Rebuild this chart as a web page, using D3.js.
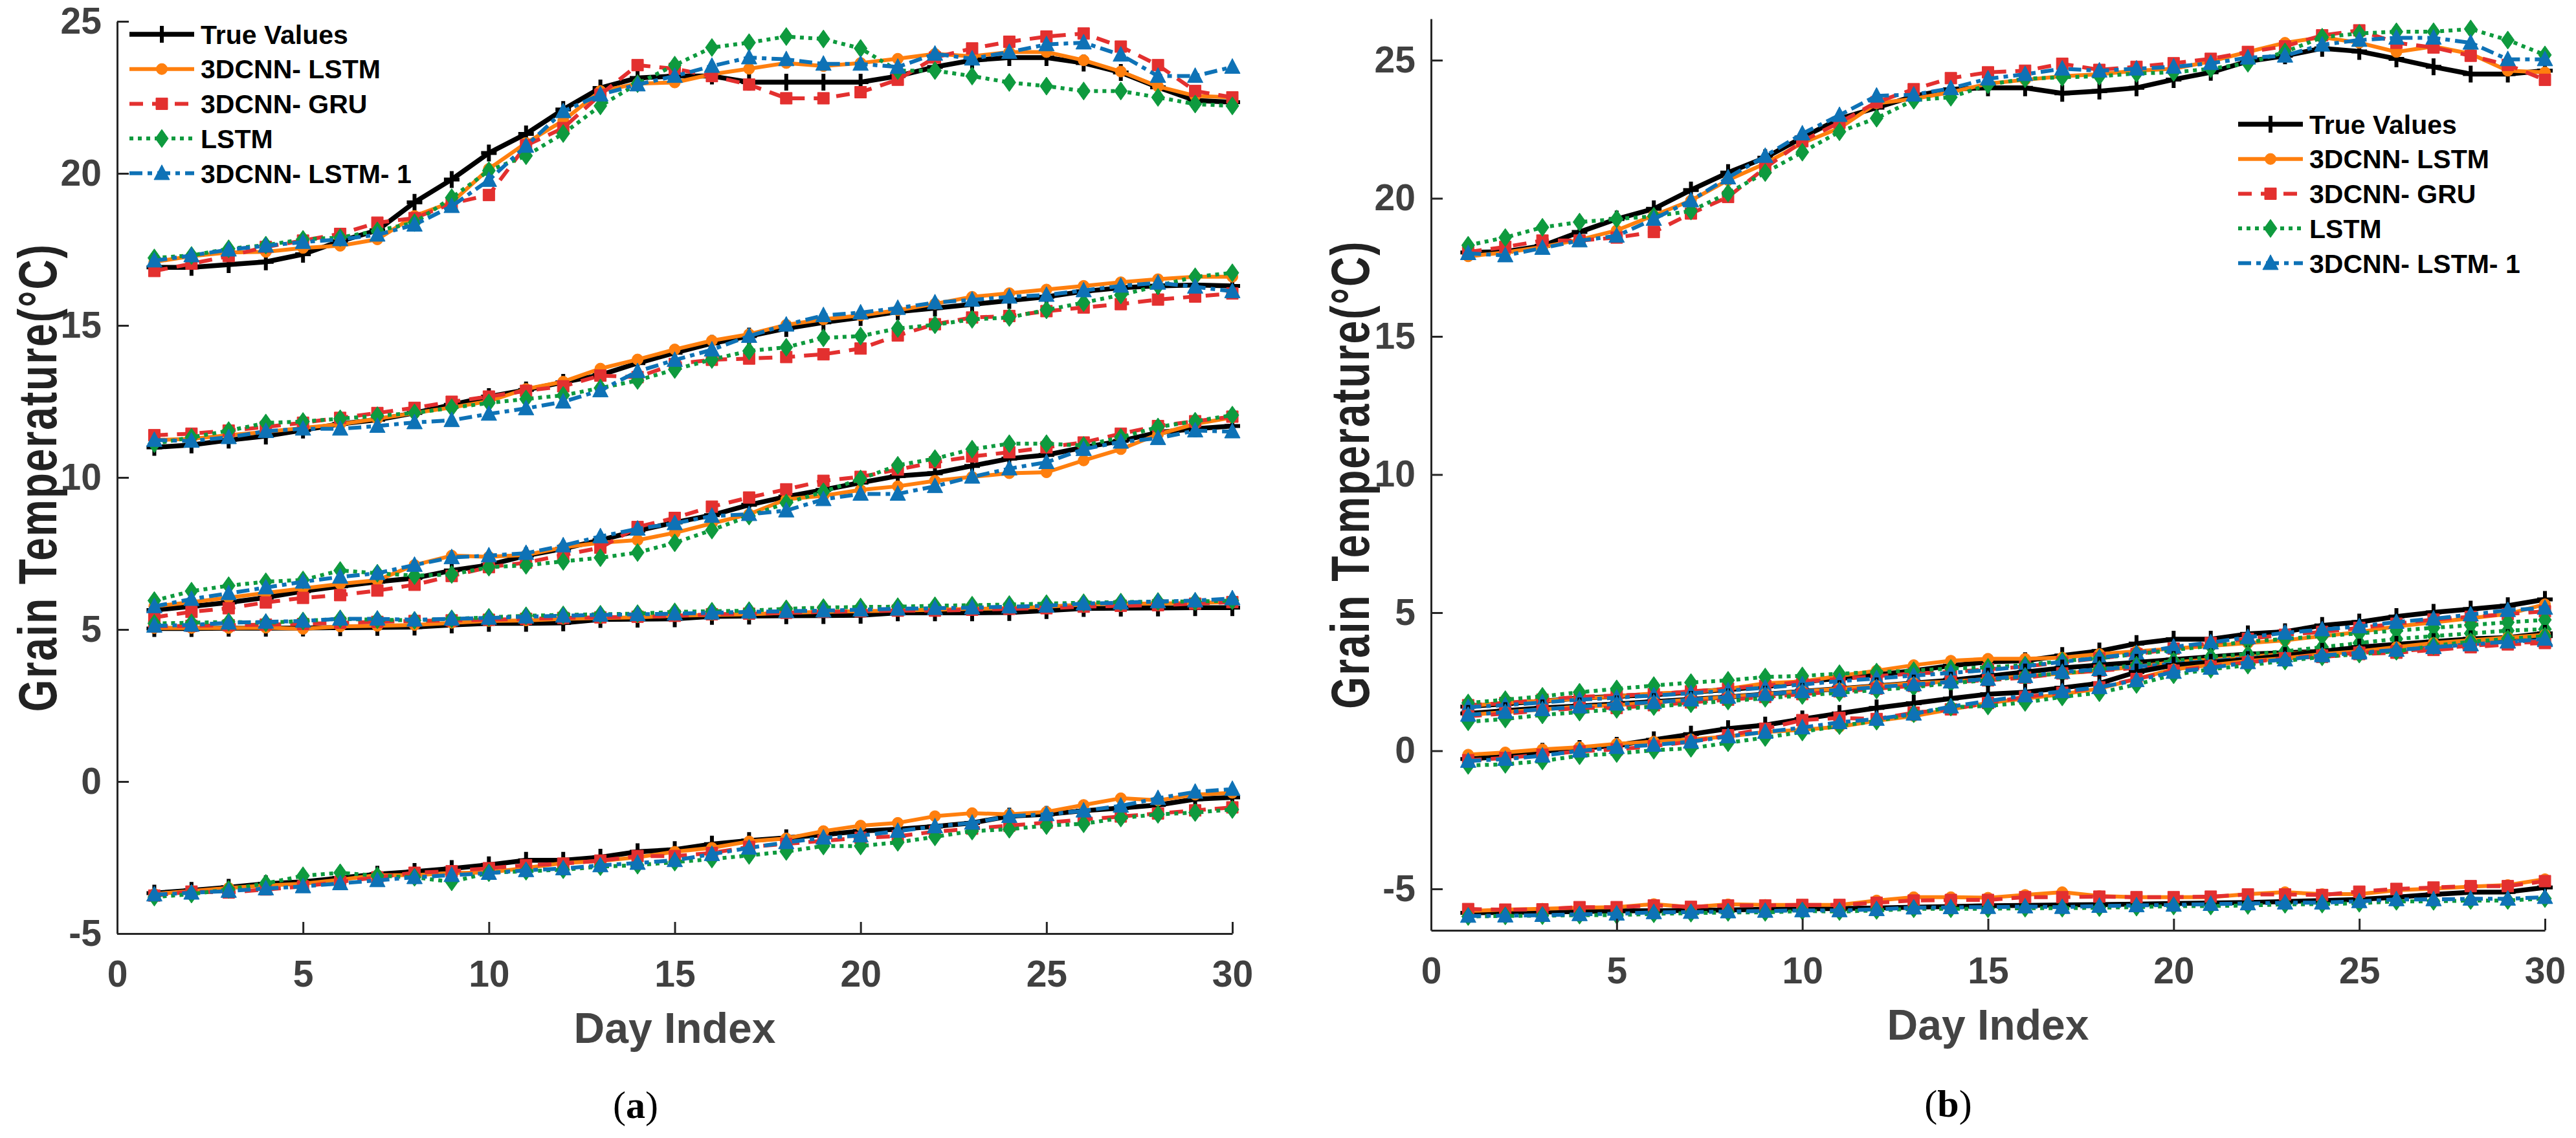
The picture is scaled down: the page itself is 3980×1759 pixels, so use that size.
<!DOCTYPE html>
<html>
<head>
<meta charset="utf-8">
<title>Grain temperature prediction</title>
<script src="https://cdn.jsdelivr.net/npm/d3@7"></script>
<style>
body { margin:0; background:#fff; }
</style>
</head>
<body>
<svg id="fig" width="3980" height="1759"></svg>

<script>
// ---- data ----
var days=[1,2,3,4,5,6,7,8,9,10,11,12,13,14,15,16,17,18,19,20,21,22,23,24,25,26,27,28,29,30]
var seriesNames=["True Values","3DCNN- LSTM","3DCNN- GRU","LSTM","3DCNN- LSTM- 1"]
var xTicks=[0,5,10,15,20,25,30]
var yTicks=[-5,0,5,10,15,20,25]

// panel (a): one list per sensor group
var aTrue=[
 [16.91,16.91,17.0,17.09,17.34,17.77,18.13,19.05,19.8,20.67,21.3,22.1,22.81,23.14,23.2,23.2,23.0,23.0,23.0,23.0,23.2,23.5,23.72,23.81,23.81,23.63,23.32,22.83,22.4,22.34],
 [10.99,11.07,11.23,11.36,11.56,11.76,11.9,12.12,12.39,12.66,12.88,13.13,13.37,13.76,14.1,14.41,14.65,14.9,15.1,15.26,15.45,15.57,15.69,15.82,15.94,16.12,16.24,16.3,16.33,16.3],
 [5.64,5.76,5.89,6.05,6.26,6.42,6.57,6.69,6.94,7.12,7.43,7.66,7.94,8.25,8.52,8.76,9.1,9.37,9.59,9.83,10.05,10.14,10.38,10.62,10.74,10.99,11.2,11.48,11.6,11.69],
 [5.03,5.03,5.04,5.04,5.05,5.06,5.07,5.08,5.15,5.2,5.2,5.22,5.33,5.34,5.35,5.43,5.44,5.45,5.46,5.47,5.55,5.55,5.55,5.56,5.62,5.69,5.7,5.71,5.72,5.72],
 [-3.67,-3.58,-3.48,-3.36,-3.3,-3.17,-3.05,-2.96,-2.86,-2.74,-2.59,-2.59,-2.49,-2.31,-2.24,-2.06,-1.94,-1.85,-1.75,-1.63,-1.57,-1.48,-1.36,-1.14,-1.08,-0.96,-0.87,-0.77,-0.58,-0.52]]
var aCnnLstm=[
 [17.09,17.28,17.4,17.42,17.55,17.62,17.83,18.6,19.05,20.15,21.0,21.73,22.71,22.95,22.99,23.26,23.44,23.63,23.53,23.63,23.77,23.93,23.85,23.99,23.99,23.72,23.35,22.86,22.55,22.5],
 [11.23,11.27,11.39,11.5,11.63,11.75,11.93,12.12,12.3,12.51,12.91,13.15,13.58,13.88,14.21,14.5,14.71,15.02,15.2,15.33,15.5,15.71,15.94,16.06,16.18,16.3,16.42,16.52,16.6,16.6],
 [5.76,5.9,6.05,6.2,6.35,6.5,6.62,7.12,7.43,7.39,7.45,7.7,7.85,7.94,8.18,8.49,8.79,9.28,9.4,9.59,9.71,9.89,10.02,10.14,10.17,10.56,10.93,11.42,11.76,11.97],
 [5.05,5.05,5.05,5.06,5.02,5.1,5.12,5.15,5.22,5.28,5.3,5.35,5.38,5.4,5.45,5.48,5.5,5.55,5.58,5.6,5.62,5.65,5.68,5.7,5.75,5.82,5.85,5.85,5.88,5.9],
 [-3.7,-3.6,-3.5,-3.42,-3.36,-3.23,-3.08,-3.08,-3.01,-2.99,-2.84,-2.68,-2.61,-2.49,-2.31,-2.18,-1.97,-1.87,-1.63,-1.45,-1.36,-1.14,-1.04,-1.08,-1.0,-0.77,-0.55,-0.62,-0.43,-0.37]]
var aCnnGru=[
 [16.79,17.03,17.28,17.58,17.79,18.01,18.38,18.53,19.01,19.29,20.92,21.49,22.59,23.56,23.44,23.2,22.92,22.47,22.47,22.67,23.08,23.81,24.11,24.33,24.5,24.6,24.17,23.56,22.71,22.5],
 [11.39,11.44,11.54,11.66,11.8,11.96,12.12,12.29,12.49,12.66,12.85,13.0,13.35,13.3,13.73,13.87,13.91,13.96,14.05,14.24,14.67,15.04,15.26,15.31,15.47,15.59,15.7,15.85,15.95,16.05],
 [5.4,5.58,5.7,5.89,6.04,6.13,6.28,6.47,6.76,7.05,7.2,7.45,7.69,8.37,8.67,9.04,9.34,9.61,9.89,10.02,10.26,10.5,10.69,10.83,10.99,11.15,11.44,11.69,11.85,12.0],
 [5.1,5.12,5.14,5.16,5.18,5.22,5.25,5.28,5.3,5.32,5.35,5.38,5.4,5.42,5.45,5.5,5.52,5.55,5.58,5.6,5.62,5.62,5.65,5.68,5.7,5.75,5.78,5.8,5.85,5.9],
 [-3.75,-3.62,-3.65,-3.55,-3.45,-3.3,-3.15,-3.0,-2.95,-2.85,-2.75,-2.7,-2.6,-2.45,-2.45,-2.35,-2.15,-2.05,-1.95,-1.85,-1.8,-1.65,-1.55,-1.45,-1.35,-1.25,-1.15,-1.05,-0.95,-0.85]]
var aLstm=[
 [17.22,17.3,17.52,17.64,17.83,17.89,18.11,18.38,19.2,20.09,20.58,21.31,22.22,22.95,23.56,24.14,24.3,24.5,24.42,24.11,23.38,23.38,23.2,22.99,22.87,22.71,22.71,22.5,22.28,22.22],
 [11.11,11.32,11.54,11.79,11.84,11.93,12.03,12.12,12.29,12.45,12.58,12.7,12.94,13.19,13.55,13.88,14.16,14.28,14.59,14.65,14.9,15.02,15.2,15.26,15.51,15.75,16.0,16.3,16.6,16.73],
 [5.95,6.26,6.44,6.57,6.63,6.94,6.85,6.77,6.81,7.05,7.11,7.24,7.36,7.53,7.85,8.27,8.73,9.16,9.53,9.95,10.4,10.62,10.93,11.11,11.11,11.05,11.32,11.66,11.85,12.05],
 [5.2,5.22,5.25,5.22,5.28,5.35,5.32,5.3,5.35,5.4,5.45,5.48,5.5,5.52,5.58,5.6,5.62,5.68,5.72,5.74,5.75,5.78,5.8,5.82,5.85,5.88,5.9,5.92,5.92,5.95],
 [-3.8,-3.7,-3.55,-3.35,-3.1,-3.0,-3.1,-3.15,-3.3,-3.0,-2.95,-2.9,-2.8,-2.75,-2.65,-2.55,-2.43,-2.3,-2.12,-2.12,-2.0,-1.82,-1.63,-1.57,-1.45,-1.39,-1.2,-1.08,-1.02,-0.92]]
var aCnnLstm1=[
 [17.13,17.3,17.49,17.62,17.74,17.83,17.98,18.31,18.92,19.78,20.9,22.04,22.59,22.92,23.2,23.53,23.81,23.75,23.6,23.6,23.5,23.93,23.77,23.99,24.24,24.3,23.9,23.2,23.2,23.5],
 [11.23,11.2,11.32,11.52,11.6,11.6,11.69,11.81,11.88,12.09,12.27,12.49,12.86,13.49,13.86,14.2,14.65,15.02,15.33,15.42,15.57,15.75,15.84,15.94,16.0,16.15,16.3,16.4,16.27,16.12],
 [5.76,6.0,6.19,6.38,6.57,6.73,6.85,7.12,7.37,7.43,7.51,7.76,8.06,8.31,8.49,8.73,8.79,8.91,9.28,9.46,9.46,9.71,10.02,10.29,10.5,10.93,11.17,11.29,11.54,11.51],
 [5.12,5.15,5.22,5.25,5.28,5.35,5.35,5.32,5.35,5.38,5.42,5.45,5.48,5.5,5.52,5.55,5.58,5.6,5.62,5.65,5.68,5.7,5.72,5.75,5.78,5.85,5.88,5.92,5.95,6.02],
 [-3.72,-3.66,-3.6,-3.52,-3.45,-3.35,-3.25,-3.15,-3.08,-3.01,-2.92,-2.86,-2.76,-2.68,-2.59,-2.39,-2.18,-2.0,-1.85,-1.78,-1.63,-1.48,-1.36,-1.14,-1.08,-0.96,-0.8,-0.55,-0.34,-0.25]]

// panel (b)
var bTrue=[
 [18.04,18.07,18.28,18.78,19.25,19.62,20.3,20.93,21.47,22.2,22.88,23.28,23.7,23.95,24.0,24.0,23.8,23.88,24.0,24.3,24.56,24.96,25.16,25.43,25.32,25.05,24.76,24.5,24.5,24.62],
 [1.6,1.7,1.8,1.9,1.97,2.03,2.12,2.22,2.33,2.5,2.62,2.75,2.9,3.08,3.22,3.26,3.45,3.61,3.88,4.04,4.04,4.23,4.31,4.54,4.66,4.86,5.01,5.13,5.25,5.48],
 [1.35,1.45,1.55,1.62,1.7,1.78,1.86,1.95,2.05,2.15,2.25,2.35,2.45,2.55,2.7,2.85,3.0,3.1,3.2,3.3,3.4,3.5,3.55,3.6,3.7,3.8,3.9,4.0,4.05,4.15],
 [-0.3,-0.2,-0.02,0.08,0.2,0.4,0.6,0.8,0.93,1.15,1.35,1.55,1.72,1.89,2.05,2.12,2.28,2.44,2.85,3.1,3.2,3.3,3.45,3.6,3.75,3.85,3.95,4.05,4.1,4.25],
 [-5.87,-5.85,-5.84,-5.82,-5.8,-5.79,-5.78,-5.76,-5.74,-5.72,-5.71,-5.69,-5.66,-5.64,-5.61,-5.6,-5.58,-5.57,-5.55,-5.53,-5.51,-5.49,-5.46,-5.42,-5.38,-5.3,-5.2,-5.12,-5.11,-4.95]]
var bCnnLstm=[
 [17.9,18.04,18.24,18.5,18.84,19.38,19.92,20.66,21.26,22.0,22.54,23.44,23.6,23.84,24.15,24.29,24.42,24.49,24.62,24.69,24.96,25.3,25.63,25.83,25.63,25.3,25.5,25.23,24.62,24.56],
 [1.62,1.73,1.81,1.89,1.97,2.08,2.12,2.24,2.44,2.51,2.71,2.9,3.1,3.26,3.33,3.33,3.37,3.5,3.6,3.7,3.8,3.9,4.0,4.15,4.3,4.5,4.65,4.8,4.95,5.3],
 [1.3,1.4,1.5,1.6,1.65,1.75,1.85,1.95,2.05,2.15,2.25,2.35,2.45,2.5,2.6,2.7,2.8,2.9,3.05,3.2,3.3,3.4,3.5,3.6,3.65,3.75,3.85,3.95,4.05,4.2],
 [-0.14,-0.06,0.05,0.13,0.25,0.33,0.41,0.52,0.68,0.76,0.87,1.09,1.26,1.5,1.73,1.89,2.05,2.25,2.6,2.95,3.1,3.25,3.35,3.5,3.6,3.75,3.9,4.0,4.1,4.2],
 [-5.8,-5.75,-5.72,-5.68,-5.66,-5.55,-5.66,-5.56,-5.58,-5.58,-5.58,-5.42,-5.3,-5.3,-5.32,-5.22,-5.12,-5.26,-5.3,-5.3,-5.3,-5.19,-5.12,-5.19,-5.19,-5.05,-4.99,-4.92,-4.86,-4.65]]
var bCnnGru=[
 [18.06,18.24,18.47,18.47,18.58,18.78,19.45,20.05,21.1,22.07,22.74,23.48,23.95,24.35,24.56,24.62,24.87,24.65,24.76,24.89,25.05,25.3,25.5,25.9,26.08,25.63,25.46,25.16,24.83,24.29],
 [1.65,1.73,1.85,1.95,2.0,2.05,2.15,2.25,2.35,2.5,2.6,2.7,2.8,2.85,2.95,3.05,3.2,3.35,3.5,3.7,3.9,4.05,4.2,4.3,4.45,4.6,4.75,4.85,4.95,5.05],
 [1.25,1.35,1.45,1.55,1.55,1.65,1.75,1.85,1.95,2.05,2.15,2.25,2.35,2.5,2.55,2.65,2.8,2.9,3.0,3.1,3.2,3.3,3.35,3.4,3.5,3.55,3.65,3.75,3.85,3.9],
 [-0.34,-0.26,-0.14,-0.02,0.05,0.17,0.33,0.56,0.8,1.11,1.19,1.15,1.38,1.5,1.73,1.95,2.1,2.3,2.6,2.9,3.05,3.2,3.35,3.45,3.55,3.6,3.7,3.8,3.9,3.95],
 [-5.73,-5.75,-5.74,-5.66,-5.66,-5.6,-5.65,-5.6,-5.6,-5.58,-5.58,-5.5,-5.42,-5.4,-5.4,-5.3,-5.3,-5.28,-5.3,-5.3,-5.28,-5.2,-5.2,-5.22,-5.1,-5.0,-4.95,-4.9,-4.9,-4.72]]
var bLstm=[
 [18.3,18.58,18.95,19.14,19.25,19.35,19.54,20.19,20.93,21.67,22.41,22.9,23.55,23.66,24.11,24.33,24.38,24.42,24.52,24.56,24.69,24.89,25.3,25.83,25.97,26.03,26.03,26.13,25.73,25.19],
 [1.73,1.85,1.97,2.12,2.24,2.36,2.47,2.55,2.67,2.71,2.79,2.85,2.9,2.98,3.02,3.1,3.25,3.35,3.5,3.65,3.8,3.95,4.05,4.15,4.25,4.35,4.45,4.55,4.65,4.74],
 [1.05,1.15,1.3,1.4,1.5,1.6,1.7,1.8,1.9,2.0,2.1,2.2,2.3,2.45,2.55,2.7,2.8,2.95,3.1,3.25,3.4,3.5,3.6,3.75,3.9,4.05,4.15,4.25,4.35,4.4],
 [-0.53,-0.49,-0.37,-0.18,-0.1,0.02,0.09,0.29,0.48,0.68,0.91,1.07,1.34,1.58,1.62,1.75,1.95,2.1,2.4,2.75,2.95,3.1,3.25,3.4,3.5,3.6,3.8,3.95,4.05,4.15],
 [-6.0,-5.98,-5.97,-5.95,-5.95,-5.9,-5.88,-5.85,-5.85,-5.8,-5.82,-5.78,-5.72,-5.72,-5.72,-5.7,-5.7,-5.68,-5.66,-5.62,-5.62,-5.6,-5.56,-5.55,-5.52,-5.45,-5.45,-5.42,-5.42,-5.35]]
var bCnnLstm1=[
 [18.01,17.93,18.2,18.47,18.64,19.25,19.92,20.75,21.53,22.34,23.01,23.71,23.75,23.98,24.33,24.49,24.69,24.62,24.69,24.76,24.89,25.09,25.16,25.56,25.73,25.81,25.81,25.63,25.03,25.03],
 [1.58,1.65,1.75,1.85,1.92,2.0,2.08,2.18,2.28,2.4,2.52,2.62,2.72,2.82,2.92,3.06,3.22,3.37,3.53,3.76,3.92,4.11,4.27,4.39,4.5,4.66,4.78,4.93,5.09,5.17],
 [1.3,1.4,1.5,1.6,1.7,1.75,1.85,1.95,2.05,2.15,2.2,2.3,2.4,2.5,2.6,2.7,2.85,2.95,3.05,3.15,3.25,3.35,3.45,3.5,3.6,3.65,3.75,3.85,3.95,4.0],
 [-0.37,-0.3,-0.18,0.0,0.13,0.21,0.33,0.52,0.68,0.84,1.03,1.15,1.34,1.6,1.8,2.0,2.15,2.3,2.55,2.85,3.0,3.2,3.3,3.45,3.55,3.65,3.75,3.85,3.95,4.05],
 [-5.98,-5.97,-5.95,-5.92,-5.9,-5.85,-5.84,-5.82,-5.8,-5.78,-5.78,-5.74,-5.68,-5.67,-5.66,-5.64,-5.66,-5.62,-5.6,-5.58,-5.55,-5.53,-5.5,-5.5,-5.45,-5.38,-5.38,-5.36,-5.36,-5.3]]

// ---- look ----
var sansFont="'Liberation Sans', Arial, Helvetica, sans-serif"
var styles=[
  {color:"#000000", width:7.5, dash:null,        marker:"plus"},
  {color:"#FF7F0E", width:6,   dash:null,        marker:"circle"},
  {color:"#E3302F", width:6,   dash:"21,14",     marker:"square"},
  {color:"#0E9A3E", width:6,   dash:"6,7",       marker:"diamond"},
  {color:"#0E72B6", width:6,   dash:"20,8,7,8",  marker:"triangle"}
]
var markerPath={
  plus:"M-12,0H12M0,-13V13",
  circle:d3.symbol(d3.symbolCircle,230)(),
  square:"M-9,-9H9V9H-9Z",
  diamond:"M0,-14L10,0L0,14L-10,0Z",
  triangle:"M0,-13L12,10L-12,10Z"
}
// MATLAB style tick text: plain hyphen for negatives
var plainNum=function(d){ return String(d) }

var svg=d3.select("#fig")
svg.append("rect").attr("width",3980).attr("height",1759).attr("fill","#fff")

function addMarker(g,st,px,py)
{
  var m=g.append("path")
    .attr("d",markerPath[st.marker])
    .attr("transform","translate("+px+","+py+")")
  if(st.marker=="plus")
    m.attr("fill","none").attr("stroke",st.color).attr("stroke-width",6)
  else
    m.attr("fill",st.color).attr("stroke",st.color).attr("stroke-width",1)
}

function drawPanel(p,sets)
{
  var x=d3.scaleLinear().domain([0,30]).range([p.left,p.right])
  var y=d3.scaleLinear().domain(p.yDomain).range([p.bottom,p.top])
  var g=svg.append("g")

  //---data lines, group by group---
  var line=d3.line().x(function(d,i){return x(days[i])}).y(function(d){return y(d)})
  for(var k=0;k<sets[0].length;k++)
  {
    sets.forEach(function(set,s){
      var st=styles[s]
      g.append("path")
        .attr("d",line(set[k]))
        .attr("fill","none")
        .attr("stroke",st.color)
        .attr("stroke-width",st.width)
        .attr("stroke-linejoin","round")
        .attr("stroke-dasharray",st.dash)
      set[k].forEach(function(v,i){ addMarker(g,st,x(days[i]),y(v)) })
    })
  }

  //---axes, ticks pointing inwards---
  var xAx=g.append("g")
    .attr("transform","translate(0,"+p.bottom+")")
    .call(d3.axisBottom(x).tickValues(xTicks).tickFormat(plainNum).tickSizeInner(-18).tickSizeOuter(0).tickPadding(42))
  var yAx=g.append("g")
    .attr("transform","translate("+p.left+",0)")
    .call(d3.axisLeft(y).tickValues(yTicks).tickFormat(plainNum).tickSizeInner(-18).tickSizeOuter(0).tickPadding(24))
  ;[xAx,yAx].forEach(function(a){
    a.attr("font-family",sansFont).attr("font-size",57).attr("font-weight","bold")
    a.selectAll("path,line").attr("stroke","#262626").attr("stroke-width",3)
    a.selectAll("text").attr("fill","#404040")
  })

  //---labels---
  g.append("text")
    .text("Day Index")
    .attr("x",(p.left+p.right)/2)
    .attr("y",p.xLabelY)
    .attr("text-anchor","middle")
    .attr("font-family",sansFont)
    .attr("font-size",66)
    .attr("font-weight","bold")
    .attr("fill","#444")

  g.append("text")
    .text("Grain Temperature(\u00B0C)")
    .attr("transform","translate("+p.yLabelX+","+(p.top+p.bottom)/2+") rotate(-90) scale(1,1.3)")
    .attr("dy","0.36em")
    .attr("text-anchor","middle")
    .attr("font-family",sansFont)
    .attr("font-size",64)
    .attr("font-weight","bold")
    .attr("letter-spacing",2)
    .attr("fill","#222")

  var tag=g.append("text")
    .attr("x",p.tagX)
    .attr("y",p.tagY)
    .attr("text-anchor","middle")
    .attr("font-family","'Liberation Serif', 'Times New Roman', serif")
    .attr("font-size",60)
    .attr("fill","#000")
  tag.append("tspan").text("(")
  tag.append("tspan").text(p.tag).attr("font-weight","bold")
  tag.append("tspan").text(")")

  //---legend---
  var lg=g.append("g")
  seriesNames.forEach(function(name,s){
    var st=styles[s]
    var ly=p.legendY+s*53.7
    lg.append("line")
      .attr("x1",p.legendX).attr("x2",p.legendX+100)
      .attr("y1",ly).attr("y2",ly)
      .attr("stroke",st.color)
      .attr("stroke-width",st.width)
      .attr("stroke-dasharray",st.dash)
    addMarker(lg,st,p.legendX+50,ly)
    lg.append("text")
      .text(name)
      .attr("x",p.legendX+110)
      .attr("y",ly)
      .attr("dy","0.36em")
      .attr("font-family",sansFont)
      .attr("font-size",41)
      .attr("font-weight","bold")
      .attr("fill","#000")
  })
}

drawPanel({left:181,right:1904,top:33,bottom:1443,yDomain:[-5,25],
  xLabelY:1612,yLabelX:57,tag:"a",tagX:982,tagY:1728,legendX:200,legendY:53},
  [aTrue,aCnnLstm,aCnnGru,aLstm,aCnnLstm1])

drawPanel({left:2211,right:3932,top:29,bottom:1438,yDomain:[-6.5,26.5],
  xLabelY:1607,yLabelX:2085,tag:"b",tagX:3010,tagY:1726,legendX:3458,legendY:192},
  [bTrue,bCnnLstm,bCnnGru,bLstm,bCnnLstm1])
</script>
</body>
</html>
